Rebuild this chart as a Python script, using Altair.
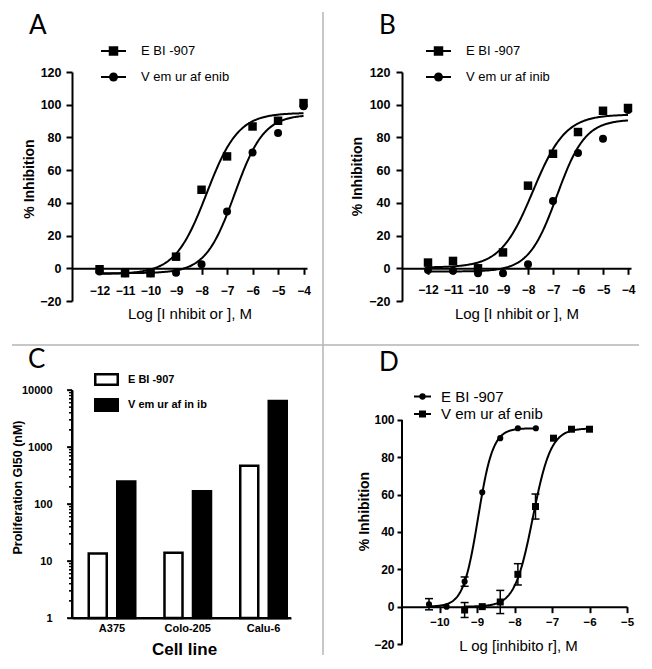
import math

import altair as alt
import numpy as np
import pandas as pd

FONT = "Liberation Sans"
LETTER_FONT = "Lato"

# ---------------- data ----------------
# Panels A and B: log dose (M) and % inhibition
dose_ab = [-12, -11, -10, -9, -8, -7, -6, -5, -4]
a_ebi = [-0.6, -3.0, -3.0, 7.1, 48.0, 68.4, 86.7, 90.2, 101.0]
a_vem = [-2.0, -3.0, -3.0, -2.8, 2.4, 34.7, 70.8, 82.7, 99.0]
b_ebi = [3.5, 4.5, 0.0, 9.7, 50.5, 70.0, 83.3, 96.3, 98.0]
b_vem = [-1.0, -1.5, -3.0, -3.0, 2.5, 41.2, 70.5, 79.2, 96.7]
# fitted 4-parameter logistic curves: bottom, top, logIC50, hill slope
a_fit_ebi = [-3.5, 95.0, -7.80, 0.70]
a_fit_vem = [-3.0, 94.0, -6.70, 0.76]
b_fit_ebi = [0.5, 94.0, -7.80, 0.67]
b_fit_vem = [-2.0, 91.0, -6.84, 0.77]

# Panel C: proliferation GI50 (nM)
cell_lines = ["A375", "Colo-205", "Calu-6"]
compounds = ["EBI-907", "Vemurafenib"]
c_ebi = [13.5, 14.0, 470.0]
c_vem = [248.0, 167.0, 6400.0]
c_major_ticks = [1, 10, 100, 1000, 10000]
c_minor_ticks = [m * 10 ** e for e in range(4) for m in range(2, 10)]

# Panel D
d_ebi_dose = [-10.28, -9.81, -9.33, -8.86, -8.38, -7.91, -7.43]
d_ebi_inh = [1.3, 0.0, 13.4, 61.2, 90.2, 95.5, 95.5]
d_ebi_err = [3.0, 0.0, 2.5, 0.0, 0.0, 0.0, 0.0]
d_vem_dose = [-9.33, -8.86, -8.38, -7.91, -7.44, -6.96, -6.48, -6.00]
d_vem_inh = [-1.8, 0.0, 2.5, 17.3, 53.6, 90.2, 95.0, 95.0]
d_vem_err = [4.0, 0.0, 6.2, 5.7, 6.7, 0.0, 0.0, 0.0]
d_fit_ebi = [0.0, 95.5, -8.97, 2.2]
d_fit_vem = [0.0, 95.5, -7.51, 1.8]

# texts
letters = ["A", "B", "C", "D"]
legend_a = ["E BI -907", "V em ur af enib"]
legend_b = ["E BI -907", "V em ur af inib"]
legend_c = ["E BI -907", "V em ur af in ib"]
legend_d = ["E BI -907", "V em ur af enib"]
title_x_ab = "Log [I nhibit or ], M"
title_x_d = "L og [inhibito r], M"
title_y_inh = "% Inhibition"
title_y_c = "Proliferation GI50 (nM)"
title_x_c = "Cell line"

ONE = pd.DataFrame({"k": [0]})


def fit_curve(fit, x0, x1, n=200):
    bottom, top, logic50, hill = fit
    xs = np.linspace(x0, x1, n)
    return pd.DataFrame({"x": xs, "y": bottom + (top - bottom) / (1 + 10 ** ((logic50 - xs) * hill))})


def txt(text, x, y, size, weight="normal", font=FONT, baseline="middle"):
    return alt.Chart(ONE).mark_text(
        text=text, font=font, fontSize=size, fontWeight=weight, align="left",
        baseline=baseline, color="black"
    ).encode(x=alt.value(x), y=alt.value(y))


def vrule(x, y0, y1, w=2):
    return alt.Chart(ONE).mark_rule(color="black", strokeWidth=w).encode(
        x=alt.value(x), y=alt.value(y0), y2=alt.value(y1))


def hrule(y, x0, x1, w=2):
    return alt.Chart(ONE).mark_rule(color="black", strokeWidth=w).encode(
        y=alt.value(y), x=alt.value(x0), x2=alt.value(x1))


def legend_row(x0, x1, y, shape, size, tx, label, fsize):
    line = hrule(y, x0, x1)
    pt = alt.Chart(ONE).mark_point(shape=shape, filled=True, size=size, color="black", opacity=1).encode(
        x=alt.value((x0 + x1) / 2), y=alt.value(y))
    return [line, pt, txt(label, tx, y, fsize)]


def dose_panel(W, H, xmin, pxu, ebi, vem, fit_e, fit_v, xlabpad, ylabpad, ytx, yty,
               leg_labels, leg_x0, letter, letter_x, extra=()):
    sx = alt.Scale(domain=[xmin, xmin + W / pxu], nice=False, zero=False)
    sy = alt.Scale(domain=[-20, 120], nice=False, zero=False)
    ax = alt.Axis(values=dose_ab, format="d", offset=-H * 20 / 140, tickSize=6,
                  labelPadding=xlabpad, labelFontSize=12, title=title_x_ab, titleFontSize=15,
                  titleFontWeight="normal", titleX=W / 2, titleY=50)
    ay = alt.Axis(values=list(range(-20, 121, 20)), tickSize=6, labelPadding=ylabpad,
                  labelFontSize=12.5, title=title_y_inh, titleFontSize=14, titleFontWeight="bold",
                  titleX=ytx, titleY=yty)

    def X(f):
        return alt.X(f"{f}:Q", scale=sx, axis=ax)

    def Y(f):
        return alt.Y(f"{f}:Q", scale=sy, axis=ay)

    layers = []
    for fit in (fit_e, fit_v):
        layers.append(alt.Chart(fit_curve(fit, -12, -4)).mark_line(color="black", strokeWidth=2)
                      .encode(x=X("x"), y=Y("y")))
    layers.append(alt.Chart(pd.DataFrame({"x": dose_ab, "y": vem}))
                  .mark_point(shape="circle", filled=True, size=64, color="black", opacity=1)
                  .encode(x=X("x"), y=Y("y")))
    layers.append(alt.Chart(pd.DataFrame({"x": dose_ab, "y": ebi}))
                  .mark_point(shape="square", filled=True, size=72, color="black", opacity=1)
                  .encode(x=X("x"), y=Y("y")))
    layers += legend_row(leg_x0, leg_x0 + 25, -21, "square", 90, leg_x0 + 40, leg_labels[0], 13)
    layers += legend_row(leg_x0, leg_x0 + 25, 5, "circle", 80, leg_x0 + 40, leg_labels[1], 13)
    layers.append(txt(letter, letter_x, -38, 26, font=LETTER_FONT, baseline="alphabetic"))
    layers += list(extra)
    return alt.layer(*layers).properties(width=W, height=H)


# page-level decorations (grey panel dividers) and a transparent anchor fixing the origin
grey = "#b5b5b5"
decor = [
    alt.Chart(ONE).mark_rule(opacity=0).encode(x=alt.value(-63), x2=alt.value(-62), y=alt.value(-63)),
    alt.Chart(ONE).mark_rule(color=grey, strokeWidth=1.5).encode(
        x=alt.value(251), y=alt.value(-60), y2=alt.value(583)),
    alt.Chart(ONE).mark_rule(color=grey, strokeWidth=1.5).encode(
        y=alt.value(273), x=alt.value(-60), x2=alt.value(567)),
]

panel_a = dose_panel(235, 229, -13.08, 25.5, a_ebi, a_vem, a_fit_ebi, a_fit_vem, 11, 5, -39, 106.5,
                     legend_a, 29, letters[0], -43, extra=decor)
panel_b = dose_panel(229, 229, -13.04, 25.0, b_ebi, b_vem, b_fit_ebi, b_fit_vem, 10, 6, -41, 104,
                     legend_b, 24, letters[1], -23)

# ---------------- panel C ----------------
WC, HC = 219, 228
c_df = pd.DataFrame({
    "cell": cell_lines * 2,
    "compound": [compounds[0]] * 3 + [compounds[1]] * 3,
    "gi50": c_ebi + c_vem,
})
syc = alt.Scale(type="log", domain=[1, 10000], nice=False)
axc_y = alt.Axis(values=c_major_ticks, format="d", tickSize=5, tickWidth=1.5, domain=True,
                 labelPadding=15, labelFontSize=11,
                 title=title_y_c, titleFontSize=12.5, titleFontWeight="bold", titleX=-51, titleY=97)
axc_x = alt.Axis(ticks=False, tickSize=0, domain=True, labelPadding=4, labelAngle=0, labelFontSize=11,
                 title=title_x_c, titleFontSize=17, titleFontWeight="bold", titleX=112, titleY=36)
bars = alt.Chart(c_df).mark_bar(stroke="black", strokeWidth=2.5).encode(
    x=alt.X("cell:N", sort=cell_lines,
            scale=alt.Scale(paddingInner=0.34, paddingOuter=0.1155, align=0.857), axis=axc_x),
    xOffset=alt.XOffset("compound:N", sort=compounds,
                        scale=alt.Scale(paddingInner=0.368, paddingOuter=0.061)),
    y=alt.Y("gi50:Q", scale=syc, axis=axc_y),
    y2=alt.datum(1),
    fill=alt.Fill("compound:N", scale=alt.Scale(domain=compounds, range=["white", "black"]), legend=None),
)
c_layers = [bars]
c_layers.append(alt.Chart(pd.DataFrame({"gi50": c_minor_ticks}))
                .mark_tick(orient="horizontal", size=3, thickness=1.2, color="black", opacity=1)
                .encode(x=alt.value(-1.5), y=alt.Y("gi50:Q", scale=syc, axis=axc_y)))
c_layers.append(alt.Chart(ONE).mark_rect(fill="white", stroke="black", strokeWidth=2.5).encode(
    x=alt.value(23.25), x2=alt.value(45.75), y=alt.value(-15.75), y2=alt.value(-5.25)))
c_layers.append(alt.Chart(ONE).mark_rect(fill="black", stroke="black", strokeWidth=2.5).encode(
    x=alt.value(23.25), x2=alt.value(45.75), y=alt.value(9.25), y2=alt.value(20.75)))
c_layers.append(txt(legend_c[0], 56, -10.5, 11, weight="bold"))
c_layers.append(txt(legend_c[1], 56, 15, 11, weight="bold"))
c_layers.append(txt(letters[2], -44, -22, 26, font=LETTER_FONT, baseline="alphabetic"))
panel_c = alt.layer(*c_layers).properties(width=WC, height=HC)

# ---------------- panel D ----------------
WD, HD = 225, 254
sxd = alt.Scale(domain=[-11, -5], nice=False, zero=False)
syd = alt.Scale(domain=[-20, 116], nice=False, zero=False)
axd_x = alt.Axis(values=[-10, -9, -8, -7, -6, -5], format="d", offset=-HD * 20 / 136, tickSize=6,
                 labelPadding=4, labelFontSize=11.5, title=title_x_d, titleFontSize=15,
                 titleFontWeight="normal", titleX=116, titleY=44)
axd_y = alt.Axis(values=[-20, 0, 20, 40, 60, 80, 100], domain=False, tickSize=5, labelPadding=3,
                 labelFontSize=12, title=title_y_inh, titleFontSize=14, titleFontWeight="bold",
                 titleX=-34, titleY=121)


def XD(f):
    return alt.X(f"{f}:Q", scale=sxd, axis=axd_x)


def YD(f):
    return alt.Y(f"{f}:Q", scale=syd, axis=axd_y)


d_layers = []
d_layers.append(alt.Chart(pd.DataFrame({"x": [-11], "y": [-20], "y2": [100]}))
                .mark_rule(color="black", strokeWidth=2).encode(x=XD("x"), y=YD("y"), y2="y2:Q"))
d_layers.append(alt.Chart(fit_curve(d_fit_ebi, d_ebi_dose[0], d_ebi_dose[-1]))
                .mark_line(color="black", strokeWidth=2).encode(x=XD("x"), y=YD("y")))
d_layers.append(alt.Chart(fit_curve(d_fit_vem, d_vem_dose[0], d_vem_dose[-1]))
                .mark_line(color="black", strokeWidth=2).encode(x=XD("x"), y=YD("y")))
for dose, inh, err in ((d_ebi_dose, d_ebi_inh, d_ebi_err), (d_vem_dose, d_vem_inh, d_vem_err)):
    edf = pd.DataFrame({"x": dose, "y": inh, "err": err})
    edf = edf[edf["err"] > 0].copy()
    edf["lo"] = edf["y"] - edf["err"]
    edf["hi"] = edf["y"] + edf["err"]
    d_layers.append(alt.Chart(edf).mark_rule(color="black", strokeWidth=1.5)
                    .encode(x=XD("x"), y=YD("lo"), y2="hi:Q"))
    for f in ("lo", "hi"):
        d_layers.append(alt.Chart(edf).mark_tick(orient="horizontal", size=8, thickness=1.5, color="black",
                                                 opacity=1).encode(x=XD("x"), y=YD(f)))
d_layers.append(alt.Chart(pd.DataFrame({"x": d_ebi_dose, "y": d_ebi_inh}))
                .mark_point(shape="circle", filled=True, size=38, color="black", opacity=1)
                .encode(x=XD("x"), y=YD("y")))
d_layers.append(alt.Chart(pd.DataFrame({"x": d_vem_dose, "y": d_vem_inh}))
                .mark_point(shape="square", filled=True, size=49, color="black", opacity=1)
                .encode(x=XD("x"), y=YD("y")))
d_layers += legend_row(12, 29, 6.5, "circle", 40, 39, legend_d[0], 15)
d_layers += legend_row(12, 29, 24, "square", 49, 39, legend_d[1], 15)
d_layers.append(txt(letters[3], -23, -19, 26, font=LETTER_FONT, baseline="alphabetic"))

# panel C's axis lines and log ticks, drawn last (from panel D, same row) so they sit on top
CX = -330  # panel C's left edge relative to panel D's origin (same row, one column to the left)
d_layers.append(vrule(CX, 0, HC + 1))
d_layers.append(hrule(HC, CX - 1, CX + WC))
for v in c_major_ticks:
    py = HC * (1 - math.log10(v) / 4)
    d_layers.append(hrule(py, CX - 5, CX, w=1.6))
for v in c_minor_ticks:
    py = HC * (1 - math.log10(v) / 4)
    d_layers.append(hrule(py, CX - 3, CX, w=1.2))
panel_d = alt.layer(*d_layers).properties(width=WD, height=HD)

chart = alt.concat(
    panel_a, panel_b, panel_c, panel_d,
    columns=2,
    spacing=alt.RowColnumber(row=89, column=95),
    bounds="flush",
    align="each",
).properties(padding=0).configure_view(stroke="transparent").configure_axis(
    domainColor="black", domainWidth=2, tickColor="black", tickWidth=2,
    labelColor="black", labelFont=FONT, labelFontWeight="bold",
    titleFont=FONT, titleColor="black", grid=False, titleBaseline="alphabetic",
    labelOverlap=False, labelFlush=False,
)

chart.save("out.html", embed_options={"renderer": "svg", "actions": False})
